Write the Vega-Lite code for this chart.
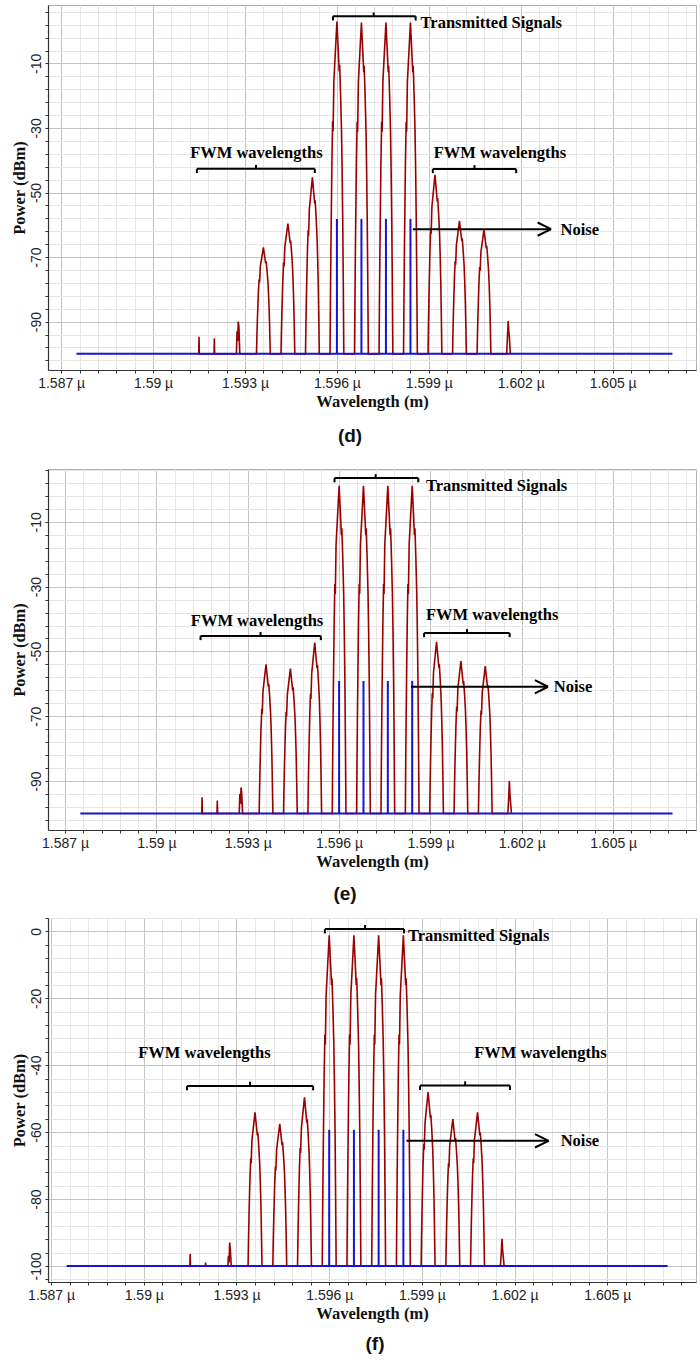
{
  "$schema": "https://vega.github.io/schema/vega-lite/v6.json",
  "padding": {"left": 11, "right": 0, "top": 4, "bottom": 0},
  "background": "white",
  "datasets": {
    "spectrum": [
      {"w":1591.49,"d":-100,"e":-100,"f":-100},
      {"w":1591.5,"d":-94.7,"e":-95,"f":-96.4},
      {"w":1591.51,"d":-100,"e":-100,"f":-100},
      {"w":1591.99,"d":-100,"e":-100,"f":-100},
      {"w":1592.0,"d":-95.2,"e":-96,"f":-99},
      {"w":1592.01,"d":-100,"e":-100,"f":-100},
      {"w":1592.72,"d":-100,"e":-100,"f":-100},
      {"w":1592.74,"d":-93,"e":-94,"f":-97},
      {"w":1592.76,"d":-96,"e":-97,"f":-99},
      {"w":1592.78,"d":-90,"e":-92,"f":-93},
      {"w":1592.8,"d":-91.5,"e":-93.5,"f":-95},
      {"w":1592.83,"d":-100,"e":-100,"f":-100},

      {"w":1593.375,"d":-100,"e":-100,"f":-100},
      {"w":1593.387,"d":-95.1,"e":-93.1,"f":-93.1},
      {"w":1593.402,"d":-90.1,"e":-86.2,"f":-86.2},
      {"w":1593.42,"d":-85.2,"e":-79.3,"f":-79.3},
      {"w":1593.437,"d":-80.9,"e":-73.3,"f":-73.4},
      {"w":1593.46,"d":-76.9,"e":-67.8,"f":-67.9},
      {"w":1593.475,"d":-77.9,"e":-69.2,"f":-69.3},
      {"w":1593.5,"d":-72.9,"e":-62.3,"f":-62.4},
      {"w":1593.55,"d":-70.0,"e":-58.1,"f":-58.2},
      {"w":1593.6,"d":-67,"e":-54,"f":-54.1},
      {"w":1593.63,"d":-69.0,"e":-56.8,"f":-56.9},
      {"w":1593.675,"d":-72.0,"e":-60.9,"f":-61.0},
      {"w":1593.69,"d":-71.3,"e":-60.0,"f":-60.1},
      {"w":1593.72,"d":-74.3,"e":-64.1,"f":-64.2},
      {"w":1593.75,"d":-77.9,"e":-69.2,"f":-69.3},
      {"w":1593.77,"d":-81.9,"e":-74.7,"f":-74.8},
      {"w":1593.79,"d":-86.8,"e":-81.6,"f":-81.6},
      {"w":1593.807,"d":-92.7,"e":-89.9,"f":-89.9},
      {"w":1593.825,"d":-100,"e":-100,"f":-100},

      {"w":1594.175,"d":-100,"e":-100,"f":-100},
      {"w":1594.187,"d":-93.9,"e":-93.3,"f":-93.6},
      {"w":1594.202,"d":-87.9,"e":-86.6,"f":-87.3},
      {"w":1594.22,"d":-81.8,"e":-79.9,"f":-80.9},
      {"w":1594.237,"d":-76.6,"e":-74.1,"f":-75.4},
      {"w":1594.26,"d":-71.7,"e":-68.7,"f":-70.3},
      {"w":1594.275,"d":-72.9,"e":-70.1,"f":-71.5},
      {"w":1594.3,"d":-66.9,"e":-63.3,"f":-65.2},
      {"w":1594.35,"d":-63.2,"e":-59.3,"f":-61.3},
      {"w":1594.4,"d":-59.6,"e":-55.3,"f":-57.5},
      {"w":1594.43,"d":-62.0,"e":-58.0,"f":-60.1},
      {"w":1594.475,"d":-65.7,"e":-62.0,"f":-63.9},
      {"w":1594.49,"d":-64.9,"e":-61.1,"f":-63.0},
      {"w":1594.52,"d":-68.5,"e":-65.1,"f":-66.9},
      {"w":1594.55,"d":-72.9,"e":-70.1,"f":-71.5},
      {"w":1594.57,"d":-77.8,"e":-75.4,"f":-76.6},
      {"w":1594.59,"d":-83.8,"e":-82.1,"f":-83.0},
      {"w":1594.607,"d":-91.1,"e":-90.2,"f":-90.7},
      {"w":1594.625,"d":-100,"e":-100,"f":-100},

      {"w":1594.975,"d":-100,"e":-100,"f":-100},
      {"w":1594.987,"d":-91.8,"e":-92.1,"f":-92.4},
      {"w":1595.002,"d":-83.6,"e":-84.2,"f":-84.9},
      {"w":1595.02,"d":-75.4,"e":-76.3,"f":-77.3},
      {"w":1595.037,"d":-68.3,"e":-69.4,"f":-70.8},
      {"w":1595.06,"d":-61.7,"e":-63.1,"f":-64.7},
      {"w":1595.075,"d":-63.4,"e":-64.7,"f":-66.2},
      {"w":1595.1,"d":-55.1,"e":-56.8,"f":-58.7},
      {"w":1595.15,"d":-50.2,"e":-52.0,"f":-54.1},
      {"w":1595.2,"d":-45.3,"e":-47.3,"f":-49.6},
      {"w":1595.23,"d":-48.6,"e":-50.5,"f":-52.6},
      {"w":1595.275,"d":-53.5,"e":-55.2,"f":-57.2},
      {"w":1595.29,"d":-52.4,"e":-54.2,"f":-56.2},
      {"w":1595.32,"d":-57.3,"e":-58.9,"f":-60.7},
      {"w":1595.35,"d":-63.4,"e":-64.7,"f":-66.2},
      {"w":1595.37,"d":-69.9,"e":-71.0,"f":-72.3},
      {"w":1595.39,"d":-78.1,"e":-78.9,"f":-79.8},
      {"w":1595.407,"d":-88.0,"e":-88.4,"f":-88.9},
      {"w":1595.425,"d":-100,"e":-100,"f":-100},

      {"w":1595.775,"d":-100,"e":-100,"f":-100},
      {"w":1595.787,"d":-84.6,"e":-84.8,"f":-85.2},
      {"w":1595.802,"d":-69.1,"e":-69.7,"f":-70.4},
      {"w":1595.82,"d":-53.7,"e":-54.5,"f":-55.5},
      {"w":1595.837,"d":-40.3,"e":-41.4,"f":-42.7},
      {"w":1595.86,"d":-27.9,"e":-29.2,"f":-30.8},
      {"w":1595.875,"d":-31.0,"e":-32.3,"f":-33.8},
      {"w":1595.9,"d":-15.5,"e":-17.1,"f":-19.0},
      {"w":1595.95,"d":-6.3,"e":-8.0,"f":-10.1},
      {"w":1596.0,"d":3.0,"e":1.1,"f":-1.2},
      {"w":1596.03,"d":-3.2,"e":-5.0,"f":-7.1},
      {"w":1596.075,"d":-12.5,"e":-14.1,"f":-16.0},
      {"w":1596.09,"d":-10.4,"e":-12.0,"f":-14.0},
      {"w":1596.12,"d":-19.7,"e":-21.1,"f":-22.9},
      {"w":1596.15,"d":-31.0,"e":-32.3,"f":-33.8},
      {"w":1596.17,"d":-43.4,"e":-44.4,"f":-45.7},
      {"w":1596.19,"d":-58.8,"e":-59.6,"f":-60.5},
      {"w":1596.207,"d":-77.3,"e":-77.8,"f":-78.3},
      {"w":1596.225,"d":-100,"e":-100,"f":-100},

      {"w":1596.575,"d":-100,"e":-100,"f":-100},
      {"w":1596.587,"d":-84.6,"e":-84.8,"f":-85.2},
      {"w":1596.602,"d":-69.2,"e":-69.7,"f":-70.4},
      {"w":1596.62,"d":-53.8,"e":-54.5,"f":-55.5},
      {"w":1596.637,"d":-40.4,"e":-41.4,"f":-42.7},
      {"w":1596.66,"d":-28.1,"e":-29.2,"f":-30.8},
      {"w":1596.675,"d":-31.2,"e":-32.3,"f":-33.8},
      {"w":1596.7,"d":-15.8,"e":-17.1,"f":-19.0},
      {"w":1596.75,"d":-6.5,"e":-8.0,"f":-10.1},
      {"w":1596.8,"d":2.7,"e":1.1,"f":-1.2},
      {"w":1596.83,"d":-3.5,"e":-5.0,"f":-7.1},
      {"w":1596.875,"d":-12.7,"e":-14.1,"f":-16.0},
      {"w":1596.89,"d":-10.7,"e":-12.0,"f":-14.0},
      {"w":1596.92,"d":-19.9,"e":-21.1,"f":-22.9},
      {"w":1596.95,"d":-31.2,"e":-32.3,"f":-33.8},
      {"w":1596.97,"d":-43.5,"e":-44.4,"f":-45.7},
      {"w":1596.99,"d":-58.9,"e":-59.6,"f":-60.5},
      {"w":1597.007,"d":-77.4,"e":-77.8,"f":-78.3},
      {"w":1597.025,"d":-100,"e":-100,"f":-100},

      {"w":1597.375,"d":-100,"e":-100,"f":-100},
      {"w":1597.387,"d":-84.6,"e":-84.8,"f":-85.2},
      {"w":1597.402,"d":-69.2,"e":-69.7,"f":-70.4},
      {"w":1597.42,"d":-53.8,"e":-54.5,"f":-55.5},
      {"w":1597.437,"d":-40.4,"e":-41.4,"f":-42.7},
      {"w":1597.46,"d":-28.1,"e":-29.2,"f":-30.8},
      {"w":1597.475,"d":-31.2,"e":-32.3,"f":-33.8},
      {"w":1597.5,"d":-15.8,"e":-17.1,"f":-19.0},
      {"w":1597.55,"d":-6.5,"e":-8.0,"f":-10.1},
      {"w":1597.6,"d":2.7,"e":1.1,"f":-1.2},
      {"w":1597.63,"d":-3.5,"e":-5.0,"f":-7.1},
      {"w":1597.675,"d":-12.7,"e":-14.1,"f":-16.0},
      {"w":1597.69,"d":-10.7,"e":-12.0,"f":-14.0},
      {"w":1597.72,"d":-19.9,"e":-21.1,"f":-22.9},
      {"w":1597.75,"d":-31.2,"e":-32.3,"f":-33.8},
      {"w":1597.77,"d":-43.5,"e":-44.4,"f":-45.7},
      {"w":1597.79,"d":-58.9,"e":-59.6,"f":-60.5},
      {"w":1597.807,"d":-77.4,"e":-77.8,"f":-78.3},
      {"w":1597.825,"d":-100,"e":-100,"f":-100},

      {"w":1598.175,"d":-100,"e":-100,"f":-100},
      {"w":1598.187,"d":-84.6,"e":-84.8,"f":-85.2},
      {"w":1598.202,"d":-69.2,"e":-69.7,"f":-70.4},
      {"w":1598.22,"d":-53.8,"e":-54.5,"f":-55.5},
      {"w":1598.237,"d":-40.4,"e":-41.4,"f":-42.7},
      {"w":1598.26,"d":-28.1,"e":-29.2,"f":-30.8},
      {"w":1598.275,"d":-31.2,"e":-32.3,"f":-33.8},
      {"w":1598.3,"d":-15.8,"e":-17.1,"f":-19.0},
      {"w":1598.35,"d":-6.5,"e":-8.0,"f":-10.1},
      {"w":1598.4,"d":2.7,"e":1.1,"f":-1.2},
      {"w":1598.43,"d":-3.5,"e":-5.0,"f":-7.1},
      {"w":1598.475,"d":-12.7,"e":-14.1,"f":-16.0},
      {"w":1598.49,"d":-10.7,"e":-12.0,"f":-14.0},
      {"w":1598.52,"d":-19.9,"e":-21.1,"f":-22.9},
      {"w":1598.55,"d":-31.2,"e":-32.3,"f":-33.8},
      {"w":1598.57,"d":-43.5,"e":-44.4,"f":-45.7},
      {"w":1598.59,"d":-58.9,"e":-59.6,"f":-60.5},
      {"w":1598.607,"d":-77.4,"e":-77.8,"f":-78.3},
      {"w":1598.625,"d":-100,"e":-100,"f":-100},

      {"w":1598.975,"d":-100,"e":-100,"f":-100},
      {"w":1598.987,"d":-91.7,"e":-92.1,"f":-92.2},
      {"w":1599.002,"d":-83.4,"e":-84.1,"f":-84.4},
      {"w":1599.02,"d":-75.0,"e":-76.2,"f":-76.6},
      {"w":1599.037,"d":-67.8,"e":-69.3,"f":-69.8},
      {"w":1599.06,"d":-61.2,"e":-62.9,"f":-63.6},
      {"w":1599.075,"d":-62.8,"e":-64.5,"f":-65.2},
      {"w":1599.1,"d":-54.5,"e":-56.5,"f":-57.4},
      {"w":1599.15,"d":-49.5,"e":-51.8,"f":-52.7},
      {"w":1599.2,"d":-44.5,"e":-47,"f":-48},
      {"w":1599.23,"d":-47.8,"e":-50.2,"f":-51.1},
      {"w":1599.275,"d":-52.8,"e":-55.0,"f":-55.8},
      {"w":1599.29,"d":-51.7,"e":-53.9,"f":-54.8},
      {"w":1599.32,"d":-56.7,"e":-58.7,"f":-59.4},
      {"w":1599.35,"d":-62.8,"e":-64.5,"f":-65.2},
      {"w":1599.37,"d":-69.5,"e":-70.9,"f":-71.4},
      {"w":1599.39,"d":-77.8,"e":-78.8,"f":-79.2},
      {"w":1599.407,"d":-87.8,"e":-88.3,"f":-88.6},
      {"w":1599.425,"d":-100,"e":-100,"f":-100},

      {"w":1599.775,"d":-100,"e":-100,"f":-100},
      {"w":1599.787,"d":-93.8,"e":-93.0,"f":-93.4},
      {"w":1599.802,"d":-87.6,"e":-85.9,"f":-86.8},
      {"w":1599.82,"d":-81.5,"e":-78.9,"f":-80.2},
      {"w":1599.837,"d":-76.1,"e":-72.7,"f":-74.5},
      {"w":1599.86,"d":-71.2,"e":-67.1,"f":-69.3},
      {"w":1599.875,"d":-72.4,"e":-68.5,"f":-70.6},
      {"w":1599.9,"d":-66.2,"e":-61.5,"f":-64.0},
      {"w":1599.95,"d":-62.5,"e":-57.2,"f":-60.1},
      {"w":1600.0,"d":-58.8,"e":-53,"f":-56.1},
      {"w":1600.03,"d":-61.3,"e":-55.8,"f":-58.7},
      {"w":1600.075,"d":-65.0,"e":-60.1,"f":-62.7},
      {"w":1600.09,"d":-64.2,"e":-59.1,"f":-61.8},
      {"w":1600.12,"d":-67.9,"e":-63.3,"f":-65.8},
      {"w":1600.15,"d":-72.4,"e":-68.5,"f":-70.6},
      {"w":1600.17,"d":-77.3,"e":-74.2,"f":-75.9},
      {"w":1600.19,"d":-83.5,"e":-81.2,"f":-82.4},
      {"w":1600.207,"d":-90.9,"e":-89.7,"f":-90.3},
      {"w":1600.225,"d":-100,"e":-100,"f":-100},

      {"w":1600.575,"d":-100,"e":-100,"f":-100},
      {"w":1600.587,"d":-94.2,"e":-93.2,"f":-93.1},
      {"w":1600.602,"d":-88.5,"e":-86.4,"f":-86.2},
      {"w":1600.62,"d":-82.7,"e":-79.5,"f":-79.3},
      {"w":1600.637,"d":-77.7,"e":-73.6,"f":-73.4},
      {"w":1600.66,"d":-73.1,"e":-68.2,"f":-67.9},
      {"w":1600.675,"d":-74.2,"e":-69.5,"f":-69.3},
      {"w":1600.7,"d":-68.4,"e":-62.7,"f":-62.4},
      {"w":1600.75,"d":-65.0,"e":-58.6,"f":-58.2},
      {"w":1600.8,"d":-61.5,"e":-54.5,"f":-54.1},
      {"w":1600.83,"d":-63.8,"e":-57.2,"f":-56.9},
      {"w":1600.875,"d":-67.3,"e":-61.3,"f":-61.0},
      {"w":1600.89,"d":-66.5,"e":-60.4,"f":-60.1},
      {"w":1600.92,"d":-70.0,"e":-64.5,"f":-64.2},
      {"w":1600.95,"d":-74.2,"e":-69.5,"f":-69.3},
      {"w":1600.97,"d":-78.8,"e":-75.0,"f":-74.8},
      {"w":1600.99,"d":-84.6,"e":-81.8,"f":-81.6},
      {"w":1601.007,"d":-91.5,"e":-90.0,"f":-89.9},
      {"w":1601.025,"d":-100,"e":-100,"f":-100},

      {"w":1601.54,"d":-100,"e":-100,"f":-100},
      {"w":1601.57,"d":-94,"e":-95,"f":-96},
      {"w":1601.59,"d":-89.8,"e":-90,"f":-91.9},
      {"w":1601.61,"d":-93,"e":-94,"f":-95},
      {"w":1601.63,"d":-95,"e":-96.5,"f":-97},
      {"w":1601.66,"d":-100,"e":-100,"f":-100}
    ],
    "noise": [
      {"w":1596.0,"d":-58.2,"e":-59.1,"f":-59.3,"lo":-100},
      {"w":1596.8,"d":-58.2,"e":-59.1,"f":-59.3,"lo":-100},
      {"w":1597.6,"d":-58.2,"e":-59.1,"f":-59.3,"lo":-100},
      {"w":1598.4,"d":-58.2,"e":-59.1,"f":-59.3,"lo":-100}
    ],
    "floor": [
      {"w1":1587.5,"w2":1606.95,"p":-100}
    ],
    "segments": [
      {"panel":"d","x1":1595.87,"x2":1598.57,"y1":4.6,"y2":4.6},
      {"panel":"d","x1":1595.87,"x2":1595.87,"y1":4.6,"y2":3.3},
      {"panel":"d","x1":1598.57,"x2":1598.57,"y1":4.6,"y2":3.3},
      {"panel":"d","x1":1597.2,"x2":1597.2,"y1":4.6,"y2":5.8},
      {"panel":"d","x1":1591.43,"x2":1595.28,"y1":-42.65,"y2":-42.65},
      {"panel":"d","x1":1591.43,"x2":1591.43,"y1":-42.65,"y2":-43.95},
      {"panel":"d","x1":1595.28,"x2":1595.28,"y1":-42.65,"y2":-43.95},
      {"panel":"d","x1":1593.36,"x2":1593.36,"y1":-42.65,"y2":-41.45},
      {"panel":"d","x1":1599.13,"x2":1601.85,"y1":-42.7,"y2":-42.7},
      {"panel":"d","x1":1599.13,"x2":1599.13,"y1":-42.7,"y2":-44.0},
      {"panel":"d","x1":1601.85,"x2":1601.85,"y1":-42.7,"y2":-44.0},
      {"panel":"d","x1":1600.49,"x2":1600.49,"y1":-42.7,"y2":-41.5},
      {"panel":"d","x1":1598.48,"x2":1602.99,"y1":-61.35,"y2":-61.35},
      {"panel":"d","x1":1602.55,"x2":1602.99,"y1":-59.3,"y2":-61.35},
      {"panel":"d","x1":1602.55,"x2":1602.99,"y1":-63.4,"y2":-61.35},
      {"panel":"e","x1":1595.85,"x2":1598.6,"y1":3.5,"y2":3.5},
      {"panel":"e","x1":1595.85,"x2":1595.85,"y1":3.5,"y2":2.2},
      {"panel":"e","x1":1598.6,"x2":1598.6,"y1":3.5,"y2":2.2},
      {"panel":"e","x1":1597.2,"x2":1597.2,"y1":3.5,"y2":4.7},
      {"panel":"e","x1":1591.45,"x2":1595.4,"y1":-45.2,"y2":-45.2},
      {"panel":"e","x1":1591.45,"x2":1591.45,"y1":-45.2,"y2":-46.5},
      {"panel":"e","x1":1595.4,"x2":1595.4,"y1":-45.2,"y2":-46.5},
      {"panel":"e","x1":1593.42,"x2":1593.42,"y1":-45.2,"y2":-44.0},
      {"panel":"e","x1":1598.79,"x2":1601.6,"y1":-44.3,"y2":-44.3},
      {"panel":"e","x1":1598.79,"x2":1598.79,"y1":-44.3,"y2":-45.6},
      {"panel":"e","x1":1601.6,"x2":1601.6,"y1":-44.3,"y2":-45.6},
      {"panel":"e","x1":1600.2,"x2":1600.2,"y1":-44.3,"y2":-43.1},
      {"panel":"e","x1":1598.36,"x2":1602.86,"y1":-60.9,"y2":-60.9},
      {"panel":"e","x1":1602.43,"x2":1602.86,"y1":-58.85,"y2":-60.9},
      {"panel":"e","x1":1602.43,"x2":1602.86,"y1":-62.95,"y2":-60.9},
      {"panel":"f","x1":1595.86,"x2":1598.42,"y1":0.7,"y2":0.7},
      {"panel":"f","x1":1595.86,"x2":1595.86,"y1":0.7,"y2":-0.6},
      {"panel":"f","x1":1598.42,"x2":1598.42,"y1":0.7,"y2":-0.6},
      {"panel":"f","x1":1597.16,"x2":1597.16,"y1":0.7,"y2":1.9},
      {"panel":"f","x1":1591.4,"x2":1595.48,"y1":-46.2,"y2":-46.2},
      {"panel":"f","x1":1591.4,"x2":1591.4,"y1":-46.2,"y2":-47.5},
      {"panel":"f","x1":1595.48,"x2":1595.48,"y1":-46.2,"y2":-47.5},
      {"panel":"f","x1":1593.44,"x2":1593.44,"y1":-46.2,"y2":-44.9},
      {"panel":"f","x1":1598.94,"x2":1601.85,"y1":-46.1,"y2":-46.1},
      {"panel":"f","x1":1598.94,"x2":1598.94,"y1":-46.1,"y2":-47.4},
      {"panel":"f","x1":1601.85,"x2":1601.85,"y1":-46.1,"y2":-47.4},
      {"panel":"f","x1":1600.4,"x2":1600.4,"y1":-46.1,"y2":-44.8},
      {"panel":"f","x1":1598.5,"x2":1603.1,"y1":-62.6,"y2":-62.6},
      {"panel":"f","x1":1602.66,"x2":1603.1,"y1":-60.6,"y2":-62.6},
      {"panel":"f","x1":1602.66,"x2":1603.1,"y1":-64.6,"y2":-62.6}
    ],
    "notes": [
      {"panel":"d","x":1598.73,"y":2.6,"label":"Transmitted Signals"},
      {"panel":"d","x":1591.21,"y":-37.7,"label":"FWM wavelengths"},
      {"panel":"d","x":1599.16,"y":-37.7,"label":"FWM wavelengths"},
      {"panel":"d","x":1603.3,"y":-61.6,"label":"Noise"},
      {"panel":"e","x":1598.85,"y":1.0,"label":"Transmitted Signals"},
      {"panel":"e","x":1591.13,"y":-40.6,"label":"FWM wavelengths"},
      {"panel":"e","x":1598.85,"y":-38.7,"label":"FWM wavelengths"},
      {"panel":"e","x":1603.05,"y":-61.1,"label":"Noise"},
      {"panel":"f","x":1598.55,"y":-1.4,"label":"Transmitted Signals"},
      {"panel":"f","x":1589.82,"y":-36.4,"label":"FWM wavelengths"},
      {"panel":"f","x":1600.69,"y":-36.4,"label":"FWM wavelengths"},
      {"panel":"f","x":1603.49,"y":-62.8,"label":"Noise"}
    ]
  },
  "spacing": 22,
  "vconcat": [
    {
      "width": 648,
      "height": 365,
      "title": {"text": "(d)", "orient": "bottom", "anchor": "middle", "frame": "group", "offset": 17, "dx": -22, "font": "Liberation Sans", "fontSize": 19, "fontWeight": "bold", "color": "#111"},
      "layer": [
        {
          "data": {"name": "spectrum"},
          "mark": {"type": "line", "color": "#990000", "strokeWidth": 1.6},
          "encoding": {
            "x": {"field": "w", "type": "quantitative", "scale": {"domain": [1586.57, 1607.72], "nice": false, "zero": false},
              "axis": {"title": "Wavelength (m)", "labelOverlap": false, "labelFlush": false, "tickCount": 500,
                "values": [1587,1587.6,1588.2,1588.8,1589.4,1590,1590.6,1591.2,1591.8,1592.4,1593,1593.6,1594.2,1594.8,1595.4,1596,1596.6,1597.2,1597.8,1598.4,1599,1599.6,1600.2,1600.8,1601.4,1602,1602.6,1603.2,1603.8,1604.4,1605,1605.6,1606.2,1606.8,1607.4],
                "labelExpr": "abs((datum.value-1587)/3 - round((datum.value-1587)/3)) < 0.01 ? format(datum.value/1000, '.4~r') + ' µ' : ''",
                "gridColor": {"condition": {"test": "abs((datum.value-1587)/3 - round((datum.value-1587)/3)) < 0.01", "value": "#c4c4c4"}, "value": "#e6e6e6"}}},
            "y": {"field": "d", "type": "quantitative", "scale": {"domain": [-105, 8.1], "nice": false, "zero": false},
              "axis": {"title": "Power (dBm)", "labelOverlap": false, "tickCount": 500,
                "values": [6,2,-2,-6,-10,-14,-18,-22,-26,-30,-34,-38,-42,-46,-50,-54,-58,-62,-66,-70,-74,-78,-82,-86,-90,-94,-98,-102],
                "labelExpr": "abs((datum.value+10)%20) < 0.01 ? '' + datum.value : ''",
                "gridColor": {"condition": {"test": "abs((datum.value+10)%20) < 0.01", "value": "#c4c4c4"}, "value": "#e6e6e6"}}}
          }
        },
        {
          "data": {"name": "floor"},
          "mark": {"type": "rule", "color": "#1515d0", "strokeWidth": 2},
          "encoding": {"x": {"field": "w1", "type": "quantitative"}, "x2": {"field": "w2"}, "y": {"field": "p", "type": "quantitative"}}
        },
        {
          "data": {"name": "noise"},
          "mark": {"type": "rule", "color": "#1515d0", "strokeWidth": 2},
          "encoding": {"x": {"field": "w", "type": "quantitative"}, "y": {"field": "d", "type": "quantitative"}, "y2": {"field": "lo"}}
        },
        {
          "data": {"name": "segments"},
          "transform": [{"filter": "datum.panel == 'd'"}],
          "mark": {"type": "rule", "color": "#000", "strokeWidth": 2},
          "encoding": {"x": {"field": "x1", "type": "quantitative"}, "x2": {"field": "x2"}, "y": {"field": "y1", "type": "quantitative"}, "y2": {"field": "y2"}}
        },
        {
          "data": {"name": "notes"},
          "transform": [{"filter": "datum.panel == 'd'"}],
          "mark": {"type": "text", "align": "left", "baseline": "middle", "font": "Liberation Serif", "fontWeight": "bold", "fontSize": 16.5, "color": "#000"},
          "encoding": {"x": {"field": "x", "type": "quantitative"}, "y": {"field": "y", "type": "quantitative"}, "text": {"field": "label"}}
        }
      ]
    },
    {
      "spacing": 13,
      "vconcat": [
        {
          "width": 648,
          "height": 361,
          "title": {"text": "(e)", "orient": "bottom", "anchor": "middle", "frame": "group", "offset": 15, "dx": -27, "font": "Liberation Sans", "fontSize": 19, "fontWeight": "bold", "color": "#111"},
          "layer": [
            {
              "data": {"name": "spectrum"},
              "mark": {"type": "line", "color": "#990000", "strokeWidth": 1.6},
              "encoding": {
                "x": {"field": "w", "type": "quantitative", "scale": {"domain": [1586.44, 1607.72], "nice": false, "zero": false},
                  "axis": {"title": "Wavelength (m)", "labelOverlap": false, "labelFlush": false, "tickCount": 500,
                    "values": [1587,1587.6,1588.2,1588.8,1589.4,1590,1590.6,1591.2,1591.8,1592.4,1593,1593.6,1594.2,1594.8,1595.4,1596,1596.6,1597.2,1597.8,1598.4,1599,1599.6,1600.2,1600.8,1601.4,1602,1602.6,1603.2,1603.8,1604.4,1605,1605.6,1606.2,1606.8,1607.4],
                    "labelExpr": "abs((datum.value-1587)/3 - round((datum.value-1587)/3)) < 0.01 ? format(datum.value/1000, '.4~r') + ' µ' : ''",
                    "gridColor": {"condition": {"test": "abs((datum.value-1587)/3 - round((datum.value-1587)/3)) < 0.01", "value": "#c4c4c4"}, "value": "#e6e6e6"}}},
                "y": {"field": "e", "type": "quantitative", "scale": {"domain": [-105.1, 6.3], "nice": false, "zero": false},
                  "axis": {"title": "Power (dBm)", "labelOverlap": false, "tickCount": 500,
                    "values": [6,2,-2,-6,-10,-14,-18,-22,-26,-30,-34,-38,-42,-46,-50,-54,-58,-62,-66,-70,-74,-78,-82,-86,-90,-94,-98,-102],
                    "labelExpr": "abs((datum.value+10)%20) < 0.01 ? '' + datum.value : ''",
                    "gridColor": {"condition": {"test": "abs((datum.value+10)%20) < 0.01", "value": "#c4c4c4"}, "value": "#e6e6e6"}}}
              }
            },
            {
              "data": {"name": "floor"},
              "mark": {"type": "rule", "color": "#1515d0", "strokeWidth": 2},
              "encoding": {"x": {"field": "w1", "type": "quantitative"}, "x2": {"field": "w2"}, "y": {"field": "p", "type": "quantitative"}}
            },
            {
              "data": {"name": "noise"},
              "mark": {"type": "rule", "color": "#1515d0", "strokeWidth": 2},
              "encoding": {"x": {"field": "w", "type": "quantitative"}, "y": {"field": "e", "type": "quantitative"}, "y2": {"field": "lo"}}
            },
            {
              "data": {"name": "segments"},
              "transform": [{"filter": "datum.panel == 'e'"}],
              "mark": {"type": "rule", "color": "#000", "strokeWidth": 2},
              "encoding": {"x": {"field": "x1", "type": "quantitative"}, "x2": {"field": "x2"}, "y": {"field": "y1", "type": "quantitative"}, "y2": {"field": "y2"}}
            },
            {
              "data": {"name": "notes"},
              "transform": [{"filter": "datum.panel == 'e'"}],
              "mark": {"type": "text", "align": "left", "baseline": "middle", "font": "Liberation Serif", "fontWeight": "bold", "fontSize": 16.5, "color": "#000"},
              "encoding": {"x": {"field": "x", "type": "quantitative"}, "y": {"field": "y", "type": "quantitative"}, "text": {"field": "label"}}
            }
          ]
        },
        {
          "width": 648,
          "height": 364,
          "title": {"text": "(f)", "orient": "bottom", "anchor": "middle", "frame": "group", "offset": 13, "dx": 3, "font": "Liberation Sans", "fontSize": 19, "fontWeight": "bold", "color": "#111"},
          "layer": [
            {
              "data": {"name": "spectrum"},
              "mark": {"type": "line", "color": "#990000", "strokeWidth": 1.6},
              "encoding": {
                "x": {"field": "w", "type": "quantitative", "scale": {"domain": [1586.9, 1607.87], "nice": false, "zero": false},
                  "axis": {"title": "Wavelength (m)", "labelOverlap": false, "labelFlush": false, "tickCount": 500,
                    "values": [1587,1587.6,1588.2,1588.8,1589.4,1590,1590.6,1591.2,1591.8,1592.4,1593,1593.6,1594.2,1594.8,1595.4,1596,1596.6,1597.2,1597.8,1598.4,1599,1599.6,1600.2,1600.8,1601.4,1602,1602.6,1603.2,1603.8,1604.4,1605,1605.6,1606.2,1606.8,1607.4],
                    "labelExpr": "abs((datum.value-1587)/3 - round((datum.value-1587)/3)) < 0.01 ? format(datum.value/1000, '.4~r') + ' µ' : ''",
                    "gridColor": {"condition": {"test": "abs((datum.value-1587)/3 - round((datum.value-1587)/3)) < 0.01", "value": "#c4c4c4"}, "value": "#e6e6e6"}}},
                "y": {"field": "f", "type": "quantitative", "scale": {"domain": [-104.8, 4], "nice": false, "zero": false},
                  "axis": {"title": "Power (dBm)", "labelOverlap": false, "tickCount": 500,
                    "values": [4,0,-4,-8,-12,-16,-20,-24,-28,-32,-36,-40,-44,-48,-52,-56,-60,-64,-68,-72,-76,-80,-84,-88,-92,-96,-100,-104],
                    "labelExpr": "abs(datum.value%20) < 0.01 ? '' + datum.value : ''",
                    "gridColor": {"condition": {"test": "abs(datum.value%20) < 0.01", "value": "#c4c4c4"}, "value": "#e6e6e6"}}}
              }
            },
            {
              "data": {"name": "floor"},
              "mark": {"type": "rule", "color": "#1515d0", "strokeWidth": 2},
              "encoding": {"x": {"field": "w1", "type": "quantitative"}, "x2": {"field": "w2"}, "y": {"field": "p", "type": "quantitative"}}
            },
            {
              "data": {"name": "noise"},
              "mark": {"type": "rule", "color": "#1515d0", "strokeWidth": 2},
              "encoding": {"x": {"field": "w", "type": "quantitative"}, "y": {"field": "f", "type": "quantitative"}, "y2": {"field": "lo"}}
            },
            {
              "data": {"name": "segments"},
              "transform": [{"filter": "datum.panel == 'f'"}],
              "mark": {"type": "rule", "color": "#000", "strokeWidth": 2},
              "encoding": {"x": {"field": "x1", "type": "quantitative"}, "x2": {"field": "x2"}, "y": {"field": "y1", "type": "quantitative"}, "y2": {"field": "y2"}}
            },
            {
              "data": {"name": "notes"},
              "transform": [{"filter": "datum.panel == 'f'"}],
              "mark": {"type": "text", "align": "left", "baseline": "middle", "font": "Liberation Serif", "fontWeight": "bold", "fontSize": 16.5, "color": "#000"},
              "encoding": {"x": {"field": "x", "type": "quantitative"}, "y": {"field": "y", "type": "quantitative"}, "text": {"field": "label"}}
            }
          ]
        }
      ]
    }
  ],
  "config": {
    "view": {"stroke": "#b0b0b0", "strokeWidth": 1},
    "axis": {
      "domainColor": "#333", "domainWidth": 1.2,
      "tickColor": "#333", "tickSize": 3, "tickWidth": 1,
      "gridOpacity": 1, "gridWidth": 1,
      "labelFont": "Liberation Sans", "labelFontSize": 14, "labelColor": "#222",
      "titleFont": "Liberation Serif", "titleFontWeight": "bold", "titleFontSize": 16.5, "titleColor": "#111"
    },
    "axisX": {"labelPadding": 3, "titlePadding": 3},
    "axisY": {"labelAngle": -90, "labelAlign": "center", "labelBaseline": "bottom", "labelPadding": 1.5, "titlePadding": 2}
  }
}
